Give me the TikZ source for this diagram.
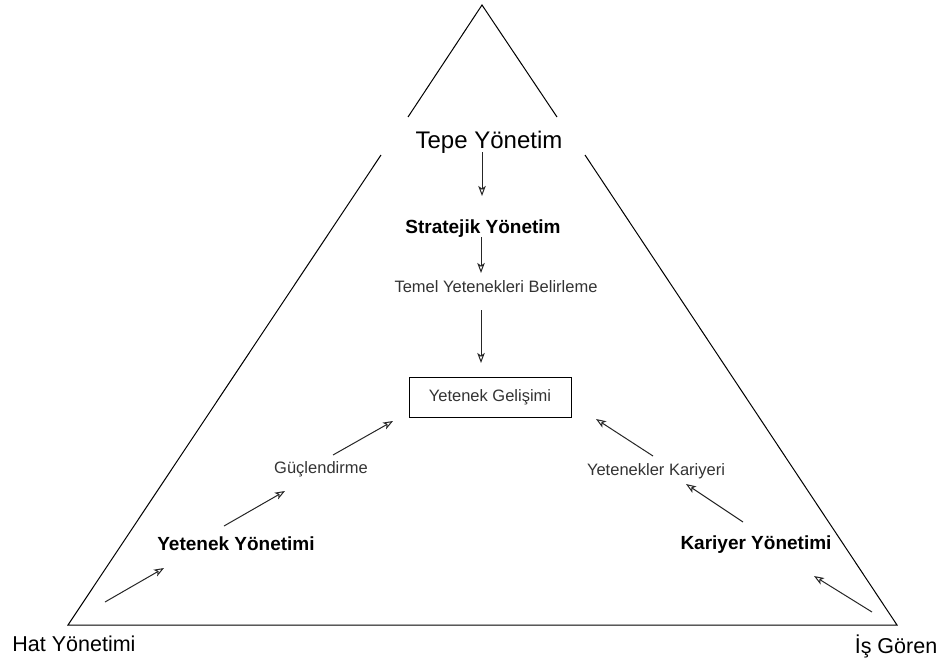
\documentclass[tikz,border=0pt]{standalone}
\usepackage{fontspec}
\setmainfont{Liberation Sans}
\usetikzlibrary{arrows.meta}
\begin{document}
\begin{tikzpicture}[x=1pt,y=-1pt,
  edge/.style={draw=black,line width=1pt},
  flow/.style={draw=black!85,line width=1pt,
    -{Stealth[open,length=10pt,width=7.5pt,inset=2.5pt]}},
  lbl/.style={anchor=base,inner sep=0pt,text=black!80,font=\fontsize{16.5}{18}\selectfont},
  head/.style={anchor=base,inner sep=0pt,font=\bfseries\fontsize{19}{22}\selectfont},
  corner/.style={anchor=base,inner sep=0pt,font=\fontsize{21.5}{24}\selectfont},
  boxed/.style={draw=black,line width=1pt,minimum width=162pt,minimum height=40pt,
    inner sep=0pt,font=\fontsize{16.5}{18}\selectfont,text=black!80}]
\useasboundingbox (0,0) rectangle (944,659);

% triangle frame, broken around the top label
\coordinate (apex) at (482,5);
\coordinate (lt) at (408,117);
\coordinate (rt) at (557,117);
\coordinate (lm) at (381,155);
\coordinate (rm) at (585,155);
\coordinate (bl) at (68,625);
\coordinate (br) at (897,625);
\draw[edge] (lt) -- (apex) -- (rt);
\draw[edge] (lm) -- (bl) -- (br) -- (rm);

% labels
\node[anchor=base,inner sep=0pt,font=\fontsize{24}{28}\selectfont] (tepe) at (489,148) {Tepe Yönetim};
\node[head] (strat) at (483,233) {Stratejik Yönetim};
\node[lbl] (temel) at (496,292) {Temel Yetenekleri Belirleme};
\node[boxed] (gelisim) at (490,397) {Yetenek Gelişimi};
\node[lbl] (guc) at (321,473) {Güçlendirme};
\node[lbl] (kariyeri) at (656,475) {Yetenekler Kariyeri};
\node[head] (ytnk) at (236,550) {Yetenek Yönetimi};
\node[head] (kariyer) at (756,549) {Kariyer Yönetimi};
\node[corner] (hat) at (74,651) {Hat Yönetimi};
\node[corner] (isgoren) at (896,653) {İş Gören};

% arrow end points
\coordinate (d1a) at (482,152); \coordinate (d1b) at (482,196);
\coordinate (d2a) at (481,237); \coordinate (d2b) at (481,273);
\coordinate (d3a) at (481,310); \coordinate (d3b) at (481,363);
\coordinate (l1a) at (105,602); \coordinate (l1b) at (164,568);
\coordinate (l2a) at (224,526); \coordinate (l2b) at (285,491);
\coordinate (l3a) at (333,455); \coordinate (l3b) at (393,421);
\coordinate (r1a) at (872,612); \coordinate (r1b) at (814,576);
\coordinate (r2a) at (743,522); \coordinate (r2b) at (686,484);
\coordinate (r3a) at (653,456); \coordinate (r3b) at (596,419);

% arrows
\draw[flow] (d1a) -- (d1b);
\draw[flow] (d2a) -- (d2b);
\draw[flow] (d3a) -- (d3b);
\draw[flow] (l1a) -- (l1b);
\draw[flow] (l2a) -- (l2b);
\draw[flow] (l3a) -- (l3b);
\draw[flow] (r1a) -- (r1b);
\draw[flow] (r2a) -- (r2b);
\draw[flow] (r3a) -- (r3b);
\end{tikzpicture}
\end{document}
